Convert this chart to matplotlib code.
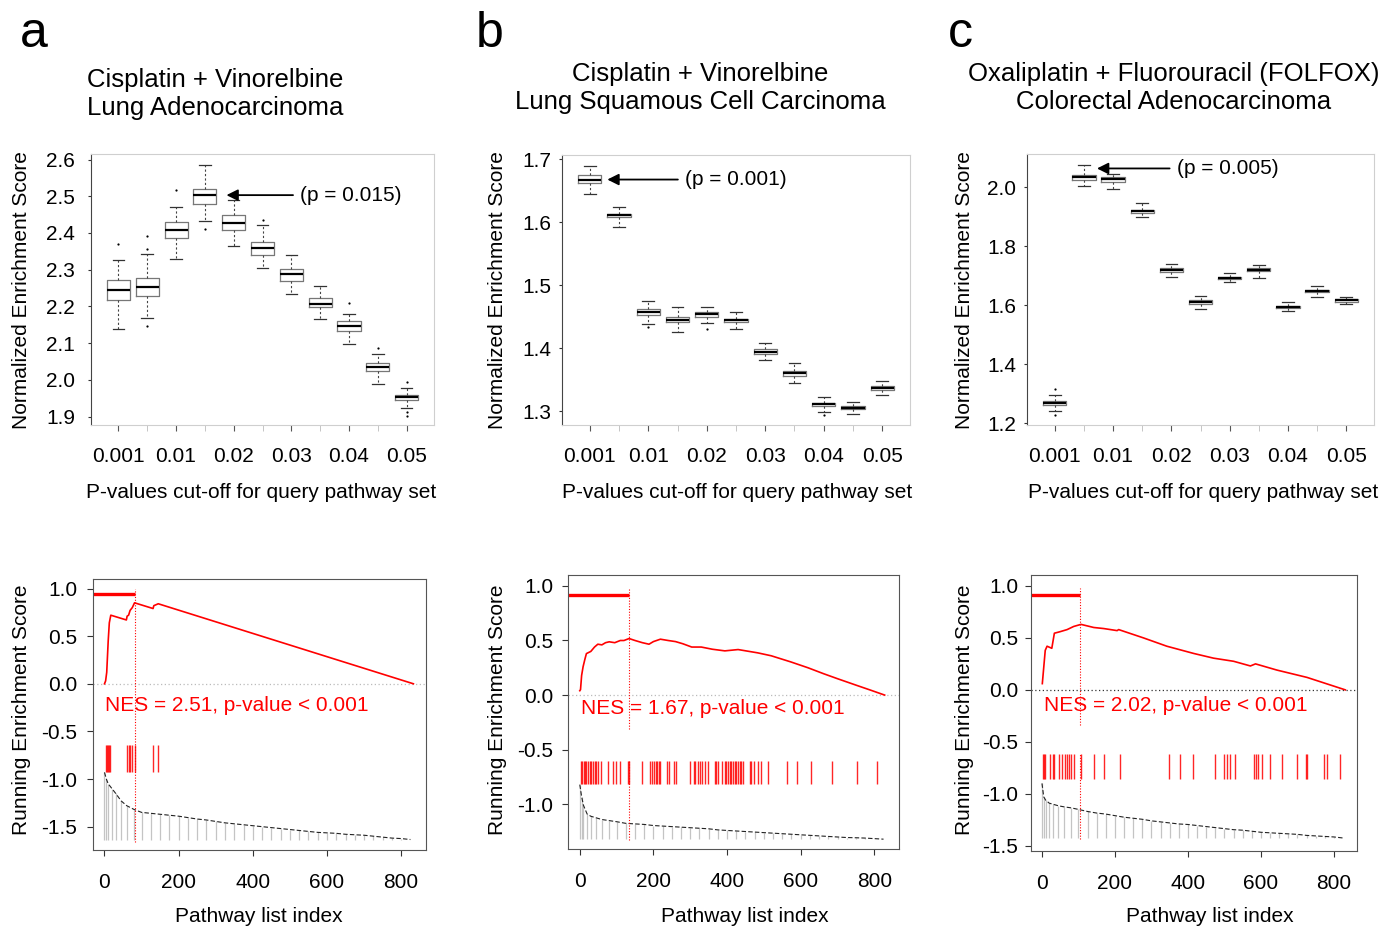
import matplotlib
matplotlib.use('Agg')
import matplotlib.pyplot as plt

plt.rcParams['font.family'] = ['Liberation Sans', 'DejaVu Sans']
plt.rcParams['axes.unicode_minus'] = False

W, H = 1384, 926

# ---- top row : NES boxplots per p-value cut-off ----
p_cutoffs = ['0.001', '0.005', '0.01', '0.015', '0.02', '0.025', '0.03', '0.035', '0.04', '0.045', '0.05']
p_labels = ['0.001', '0.01', '0.02', '0.03', '0.04', '0.05']

nes_a_med = [2.244, 2.253, 2.407, 2.503, 2.428, 2.360, 2.288, 2.206, 2.146, 2.034, 1.954]
nes_a_q1 = [2.217, 2.228, 2.386, 2.480, 2.409, 2.340, 2.269, 2.199, 2.133, 2.024, 1.945]
nes_a_q3 = [2.273, 2.278, 2.431, 2.521, 2.450, 2.375, 2.301, 2.224, 2.159, 2.045, 1.960]
nes_a_lo = [2.139, 2.169, 2.330, 2.433, 2.365, 2.304, 2.235, 2.165, 2.097, 1.990, 1.924]
nes_a_hi = [2.326, 2.344, 2.471, 2.584, 2.489, 2.421, 2.341, 2.255, 2.179, 2.070, 1.979]
nes_a_out = [[2.370], [2.357, 2.392, 2.147], [2.517], [2.410], [], [2.436], [], [], [2.208], [2.088], [1.995, 1.913, 1.901]]

nes_b_med = [1.668, 1.611, 1.458, 1.445, 1.454, 1.445, 1.394, 1.360, 1.311, 1.305, 1.336]
nes_b_q1 = [1.662, 1.608, 1.453, 1.441, 1.450, 1.441, 1.391, 1.356, 1.308, 1.303, 1.333]
nes_b_q3 = [1.675, 1.614, 1.463, 1.450, 1.457, 1.447, 1.398, 1.364, 1.313, 1.308, 1.340]
nes_b_lo = [1.645, 1.592, 1.438, 1.426, 1.440, 1.430, 1.381, 1.344, 1.299, 1.295, 1.325]
nes_b_hi = [1.690, 1.624, 1.475, 1.465, 1.466, 1.458, 1.409, 1.377, 1.322, 1.315, 1.348]
nes_b_out = [[], [], [1.434], [], [1.430], [], [], [], [1.294], [], []]

nes_c_med = [1.268, 2.034, 2.029, 1.920, 1.720, 1.611, 1.693, 1.720, 1.595, 1.649, 1.617]
nes_c_q1 = [1.261, 2.025, 2.019, 1.914, 1.714, 1.606, 1.688, 1.715, 1.591, 1.644, 1.612]
nes_c_q3 = [1.275, 2.043, 2.036, 1.923, 1.725, 1.617, 1.697, 1.728, 1.599, 1.652, 1.621]
nes_c_lo = [1.243, 2.005, 1.994, 1.898, 1.695, 1.589, 1.679, 1.693, 1.580, 1.629, 1.603]
nes_c_hi = [1.296, 2.075, 2.045, 1.948, 1.740, 1.632, 1.711, 1.738, 1.612, 1.666, 1.629]
nes_c_out = [[1.316, 1.228], [], [], [], [], [], [], [], [], [], []]

# ---- bottom row : running enrichment score ----
es_a_x = [0, 3, 6, 10, 13, 17, 59, 61, 65, 69, 75, 81, 131, 133, 145, 833]
es_a_y = [0.0, 0.03, 0.12, 0.45, 0.64, 0.72, 0.67, 0.71, 0.72, 0.77, 0.80, 0.85, 0.79, 0.82, 0.84, 0.0]
hits_a = [3, 6, 10, 13, 16, 60, 65, 69, 75, 81, 132, 145]

es_b_x = [0, 2, 5, 9, 14, 18, 30, 40, 49, 60, 70, 80, 95, 110, 120, 134, 150, 170, 188, 200, 219, 240,
          260, 280, 304, 330, 360, 394, 430, 460, 483, 520, 573, 620, 662, 700, 752, 790, 828]
es_b_y = [0.04, 0.05, 0.18, 0.26, 0.33, 0.38, 0.40, 0.44, 0.466, 0.46, 0.48, 0.488, 0.48, 0.50, 0.50, 0.518,
          0.50, 0.48, 0.466, 0.49, 0.512, 0.50, 0.49, 0.47, 0.44, 0.44, 0.42, 0.405, 0.417, 0.40, 0.387,
          0.36, 0.304, 0.25, 0.196, 0.15, 0.089, 0.045, 0.0]
hits_b = [2, 6, 11, 13, 18, 22, 27, 31, 36, 40, 45, 49, 58, 76, 90, 99, 110, 130, 134, 170, 192, 197, 201,
          206, 210, 215, 219, 237, 242, 255, 260, 300, 309, 313, 322, 327, 331, 340, 349, 367, 371, 376,
          385, 394, 398, 403, 407, 412, 416, 421, 425, 430, 434, 439, 443, 461, 465, 474, 483, 492, 510,
          564, 591, 627, 685, 752, 806]

es_c_x = [1, 9, 14, 27, 34, 50, 69, 87, 107, 142, 169, 206, 210, 278, 342, 379, 416, 470, 525, 571, 585,
          644, 726, 831]
es_c_y = [0.06, 0.38, 0.42, 0.40, 0.545, 0.56, 0.58, 0.61, 0.63, 0.60, 0.59, 0.57, 0.58, 0.50, 0.42, 0.385,
          0.35, 0.305, 0.275, 0.23, 0.25, 0.19, 0.12, 0.0]
hits_c = [3, 6, 9, 21, 29, 34, 46, 55, 64, 68, 73, 79, 87, 107, 142, 169, 215, 347, 377, 415, 475, 498,
          507, 516, 530, 580, 587, 592, 603, 624, 658, 699, 722, 726, 772, 781, 817]

# ranked list metric (scaled), read at these indexes
rank_idx = [0, 5, 10, 20, 30, 45, 60, 80, 100, 125, 150, 175, 200, 225, 250, 275, 300, 325, 350, 375, 400,
            425, 450, 475, 500, 525, 550, 575, 600, 625, 650, 675, 700, 725, 750, 775, 800, 825]
rank_a = [-0.93, -1.00, -1.05, -1.10, -1.15, -1.23, -1.28, -1.32, -1.35, -1.36, -1.37, -1.38, -1.39, -1.405,
          -1.42, -1.43, -1.445, -1.46, -1.47, -1.48, -1.49, -1.50, -1.51, -1.52, -1.53, -1.54, -1.55, -1.56,
          -1.565, -1.57, -1.58, -1.585, -1.59, -1.60, -1.61, -1.62, -1.625, -1.635]
rank_b = [-0.82, -0.93, -1.01, -1.09, -1.11, -1.125, -1.14, -1.15, -1.16, -1.175, -1.18, -1.185, -1.195,
          -1.20, -1.205, -1.21, -1.215, -1.22, -1.225, -1.235, -1.24, -1.245, -1.25, -1.255, -1.26, -1.265,
          -1.27, -1.275, -1.28, -1.285, -1.29, -1.295, -1.30, -1.305, -1.307, -1.31, -1.315, -1.32]
rank_c = [-0.90, -1.03, -1.06, -1.09, -1.10, -1.115, -1.125, -1.135, -1.15, -1.17, -1.185, -1.195, -1.21,
          -1.225, -1.235, -1.245, -1.26, -1.27, -1.28, -1.29, -1.295, -1.305, -1.315, -1.325, -1.335,
          -1.345, -1.35, -1.36, -1.37, -1.375, -1.38, -1.385, -1.39, -1.40, -1.405, -1.41, -1.415, -1.425]


def rect(l, t, r, b):
	return [l / W, 1 - b / H, (r - l) / W, (b - t) / H]


def boite(ax, med, q1, q3, lo, hi, out, ylim, yticks, ypad, arrow_to, arrow_from, ptext):
	stats = []
	for i in range(len(med)):
		stats.append({'med': med[i], 'q1': q1[i], 'q3': q3[i], 'whislo': lo[i], 'whishi': hi[i],
		              'fliers': out[i], 'label': p_cutoffs[i]})
	ax.bxp(stats, positions=range(1, len(med) + 1), widths=0.8,
	       boxprops=dict(color='#777777', linewidth=0.9),
	       medianprops=dict(color='black', linewidth=1.6),
	       whiskerprops=dict(color='#444444', linewidth=0.8, linestyle=(0, (2, 2))),
	       capprops=dict(color='#333333', linewidth=0.9),
	       flierprops=dict(marker='o', markersize=1.6, markerfacecolor='black', markeredgecolor='none'))
	ax.set_xlim(0.05, 11.95)
	ax.set_ylim(*ylim)
	ax.set_yticks(yticks)
	ax.set_yticklabels([f'{t:.1f}' for t in yticks])
	ax.set_xticks([1, 3, 5, 7, 9, 11])
	ax.set_xticklabels(p_labels)
	ax.set_xticks([2, 4, 6, 8, 10], minor=True)
	ax.tick_params(axis='x', which='major', length=4, color='#555555', pad=11.5, labelsize=15)
	ax.tick_params(axis='x', which='minor', length=4, color='#bbbbbb')
	ax.tick_params(axis='y', length=2, color='#333333', pad=ypad, labelsize=15)
	for side in ['top', 'right', 'bottom']:
		ax.spines[side].set_color('#cfcfcf')
	ax.spines['left'].set_color('#444444')
	ax.annotate(ptext, xy=arrow_to, xytext=arrow_from, fontsize=15, ha='left', va='center',
	            arrowprops=dict(arrowstyle='-|>', color='black', lw=1.3, mutation_scale=17,
	                            shrinkA=3, shrinkB=0))


def gsea(ax, es_x, es_y, hits, hit_range, rank, base, lead, gaps, nes, nes_pos, xlim, ylim, yticks, ypad, zero_col):
	ax.set_xlim(*xlim)
	ax.set_ylim(*ylim)
	ax.axhline(0, color=zero_col, linestyle=(0, (1, 2)), linewidth=0.9)
	ax.vlines(rank_idx, base, rank, color='#c4c4c4', linewidth=0.9)
	ax.plot(rank_idx, rank, color='#222222', linewidth=0.8, linestyle=(0, (4, 2)))
	ax.vlines(hits, hit_range[0], hit_range[1], color='red', linewidth=1.0, alpha=0.85)
	ax.plot(es_x, es_y, color='red', linewidth=1.2)
	ax.hlines(lead[1], xlim[0], lead[0], color='red', linewidth=2.4)
	# dotted marker at the leading edge, drawn in pieces
	for y0, y1 in gaps:
		ax.vlines(lead[0], y0, y1, color='red', linestyle=(0, (1, 1.5)), linewidth=0.8)
	ax.text(nes_pos[0], nes_pos[1], nes, color='red', fontsize=15, va='center', ha='left')
	ax.set_xticks([0, 200, 400, 600, 800])
	ax.set_yticks(yticks)
	ax.set_yticklabels([f'{t:.1f}' for t in yticks])
	ax.tick_params(axis='x', length=4.3, color='#333333', pad=12, labelsize=15)
	ax.tick_params(axis='y', length=4.3, color='#333333', pad=ypad, labelsize=15)
	for side in ['top', 'right', 'bottom', 'left']:
		ax.spines[side].set_color('#555555')


fig = plt.figure(figsize=(W / 100, H / 100), dpi=100)

ax = fig.add_axes(rect(91, 154, 434, 425))
boite(ax, nes_a_med, nes_a_q1, nes_a_q3, nes_a_lo, nes_a_hi, nes_a_out, (1.877, 2.615),
      [1.9, 2.0, 2.1, 2.2, 2.3, 2.4, 2.5, 2.6], 9.5, (4.75, 2.503), (7.3, 2.503), '(p = 0.015)')
ax = fig.add_axes(rect(562, 155, 910, 425))
boite(ax, nes_b_med, nes_b_q1, nes_b_q3, nes_b_lo, nes_b_hi, nes_b_out, (1.278, 1.707),
      [1.3, 1.4, 1.5, 1.6, 1.7], 6, (1.6, 1.668), (4.25, 1.668), '(p = 0.001)')
ax = fig.add_axes(rect(1027, 154, 1374, 425))
boite(ax, nes_c_med, nes_c_q1, nes_c_q3, nes_c_lo, nes_c_hi, nes_c_out, (1.194, 2.113),
      [1.2, 1.4, 1.6, 1.8, 2.0], 6, (2.45, 2.064), (5.18, 2.064), '(p = 0.005)')

ax = fig.add_axes(rect(93, 579, 426, 850))
gsea(ax, es_a_x, es_a_y, hits_a, (-0.93, -0.64), rank_a, -1.64, (81, 0.94), [(-1.66, 1.0)],
     'NES = 2.51, p-value < 0.001', (2, -0.225), (-31, 867), (-1.745, 1.10),
     [-1.5, -1.0, -0.5, 0.0, 0.5, 1.0], 7, '#bbbbbb')
ax = fig.add_axes(rect(568, 575, 899, 849))
gsea(ax, es_b_x, es_b_y, hits_b, (-0.81, -0.60), rank_b, -1.322, (134, 0.917), [(-0.31, 0.98), (-1.33, -0.60)],
     'NES = 1.67, p-value < 0.001', (3, -0.125), (-32, 867), (-1.41, 1.10),
     [-1.0, -0.5, 0.0, 0.5, 1.0], 6.5, '#bbbbbb')
ax = fig.add_axes(rect(1031, 575, 1357, 851))
gsea(ax, es_c_x, es_c_y, hits_c, (-0.86, -0.62), rank_c, -1.426, (105, 0.917), [(-0.34, 0.98), (-1.43, -0.62)],
     'NES = 2.02, p-value < 0.001', (6, -0.15), (-30, 863), (-1.55, 1.105),
     [-1.5, -1.0, -0.5, 0.0, 0.5, 1.0], 5, '#333333')

# panel letters and titles
for x, lettre in [(20, 'a'), (476, 'b'), (948, 'c')]:
	fig.text(x / W, 1 - 47 / H, lettre, fontsize=36, va='baseline', ha='left')

titres = [(215, 94, 'Cisplatin + Vinorelbine\nLung Adenocarcinoma'),
          (700, 88, 'Cisplatin + Vinorelbine\nLung Squamous Cell Carcinoma'),
          (1174, 88, 'Oxaliplatin + Fluorouracil (FOLFOX)\nColorectal Adenocarcinoma')]
for x, y, t in titres:
	fig.text(x / W, 1 - y / H, t, fontsize=18.5, ha='center', va='center', linespacing=1.22)

for x in [22, 497, 965]:
	fig.text(x / W, 1 - 290 / H, 'Normalized Enrichment Score', fontsize=15, rotation=90, ha='center', va='center')
	fig.text(x / W, 1 - 710 / H, 'Running Enrichment Score', fontsize=15, rotation=90, ha='center', va='center')
for x in [261, 737, 1203]:
	fig.text(x / W, 1 - 492 / H, 'P-values cut-off for query pathway set', fontsize=15, ha='center', va='center')
for x in [259, 745, 1210]:
	fig.text(x / W, 1 - 916 / H, 'Pathway list index', fontsize=15, ha='center', va='center')

fig.savefig('out.png', dpi=100, facecolor='white')
